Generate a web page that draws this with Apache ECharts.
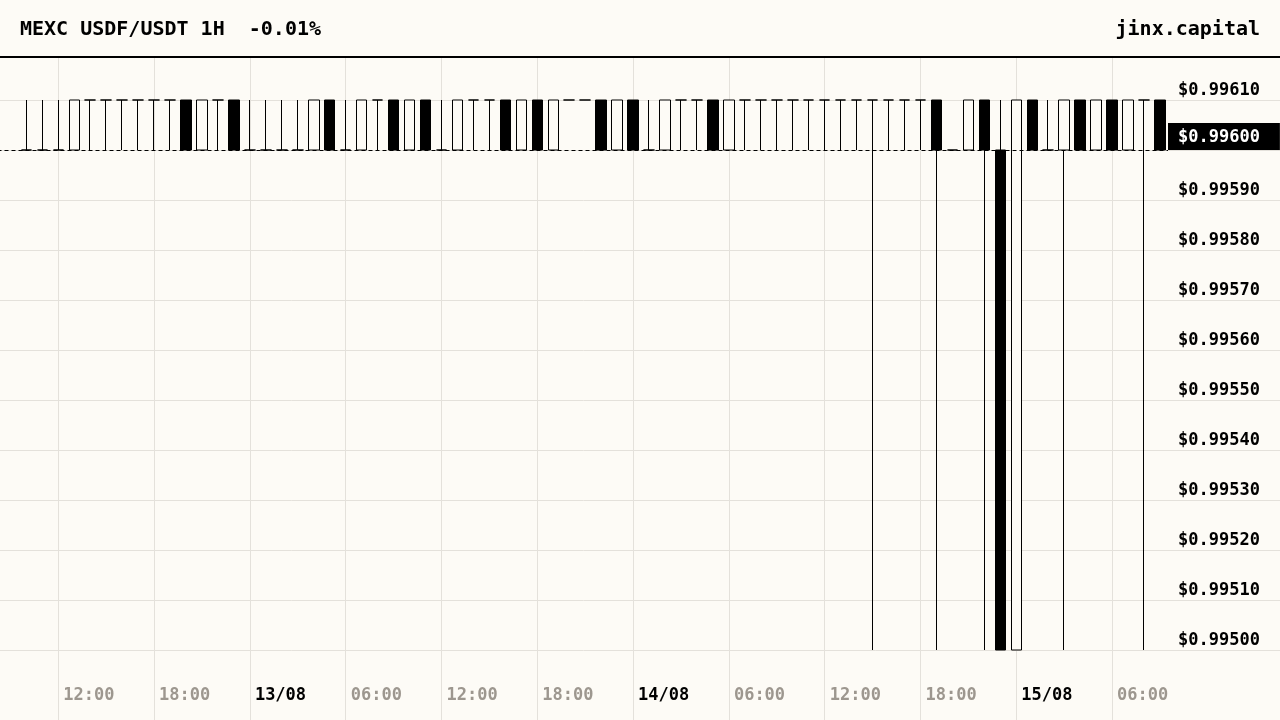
<!DOCTYPE html>
<html>
<head>
<meta charset="utf-8">
<script src="https://cdn.jsdelivr.net/npm/echarts@6/dist/echarts.min.js"></script>
<style>
html,body{margin:0;padding:0;background:#fdfbf6;}
#c{width:1280px;height:720px;}
</style>
</head>
<body>
<div id="c"></div>
<script>
// Hours since 12/08 00:00 (one candle per hour, 12/08 10:00 -> 15/08 09:00)
const hours = [
  10,11,12,13,14,15,16,17,18,19,20,21,
  22,23,24,25,26,27,28,29,30,31,32,33,
  34,35,36,37,38,39,40,41,42,43,44,45,
  46,47,48,49,50,51,52,53,54,55,56,57,
  58,59,60,61,62,63,64,65,66,67,68,69,
  70,71,72,73,74,75,76,77,78,79,80,81
];
const opens = [
  0.9960,0.9960,0.9960,0.9960,0.9961,0.9961,0.9961,0.9961,0.9961,0.9961,0.9961,0.9960,
  0.9961,0.9961,0.9960,0.9960,0.9960,0.9960,0.9960,0.9961,0.9960,0.9960,0.9961,0.9961,
  0.9960,0.9961,0.9960,0.9960,0.9961,0.9961,0.9961,0.9960,0.9961,0.9960,0.9961,0.9961,
  0.9961,0.9960,0.9961,0.9960,0.9960,0.9961,0.9961,0.9961,0.9960,0.9961,0.9961,0.9961,
  0.9961,0.9961,0.9961,0.9961,0.9961,0.9961,0.9961,0.9961,0.9961,0.9961,0.9960,0.9960,
  0.9961,0.9960,0.9950,0.9961,0.9960,0.9960,0.9961,0.9960,0.9961,0.9960,0.9961,0.9961
];
const closes = [
  0.9960,0.9960,0.9960,0.9961,0.9961,0.9961,0.9961,0.9961,0.9961,0.9961,0.9960,0.9961,
  0.9961,0.9960,0.9960,0.9960,0.9960,0.9960,0.9961,0.9960,0.9960,0.9961,0.9961,0.9960,
  0.9961,0.9960,0.9960,0.9961,0.9961,0.9961,0.9960,0.9961,0.9960,0.9961,0.9961,0.9961,
  0.9960,0.9961,0.9960,0.9960,0.9961,0.9961,0.9961,0.9960,0.9961,0.9961,0.9961,0.9961,
  0.9961,0.9961,0.9961,0.9961,0.9961,0.9961,0.9961,0.9961,0.9961,0.9960,0.9960,0.9961,
  0.9960,0.9950,0.9961,0.9960,0.9960,0.9961,0.9960,0.9961,0.9960,0.9961,0.9961,0.9960
];
const lows = [
  0.9960,0.9960,0.9960,0.9960,0.9960,0.9960,0.9960,0.9960,0.9960,0.9960,0.9960,0.9960,
  0.9960,0.9960,0.9960,0.9960,0.9960,0.9960,0.9960,0.9960,0.9960,0.9960,0.9960,0.9960,
  0.9960,0.9960,0.9960,0.9960,0.9960,0.9960,0.9960,0.9960,0.9960,0.9960,0.9961,0.9961,
  0.9960,0.9960,0.9960,0.9960,0.9960,0.9960,0.9960,0.9960,0.9960,0.9960,0.9960,0.9960,
  0.9960,0.9960,0.9960,0.9960,0.9960,0.9950,0.9960,0.9960,0.9960,0.9950,0.9960,0.9960,
  0.9950,0.9950,0.9950,0.9960,0.9960,0.9950,0.9960,0.9960,0.9960,0.9960,0.9950,0.9960
];
const highs = [
  0.9961,0.9961,0.9961,0.9961,0.9961,0.9961,0.9961,0.9961,0.9961,0.9961,0.9961,0.9961,
  0.9961,0.9961,0.9961,0.9961,0.9961,0.9961,0.9961,0.9961,0.9961,0.9961,0.9961,0.9961,
  0.9961,0.9961,0.9961,0.9961,0.9961,0.9961,0.9961,0.9961,0.9961,0.9961,0.9961,0.9961,
  0.9961,0.9961,0.9961,0.9961,0.9961,0.9961,0.9961,0.9961,0.9961,0.9961,0.9961,0.9961,
  0.9961,0.9961,0.9961,0.9961,0.9961,0.9961,0.9961,0.9961,0.9961,0.9961,0.9960,0.9961,
  0.9961,0.9961,0.9961,0.9961,0.9961,0.9961,0.9961,0.9961,0.9961,0.9961,0.9961,0.9961
];
const tickHours  = [12, 18, 24, 30, 36, 42, 48, 54, 60, 66, 72, 78];
const tickLabels = ['12:00','18:00','13/08','06:00','12:00','18:00','14/08','06:00','12:00','18:00','15/08','06:00'];
const titleText = 'MEXC USDF/USDT 1H  -0.01%';
const brandText = 'jinx.capital';

const BG = '#fdfbf6';
const GRIDC = '#e4e1db';
const FONT = '"DejaVu Sans Mono", "Liberation Mono", monospace';

const data = hours.map((h, i) => [h, opens[i], closes[i], lows[i], highs[i]]);
const lastClose = closes[closes.length - 1];
const fmtPrice = v => '$' + Number(v).toFixed(5);

const yBase = {type: 'value', min: 0.995, max: 0.9962, interval: 0.0001, scale: true,
  axisLine: {show: false}, axisTick: {show: false}};

const chart = echarts.init(document.getElementById('c'), null, {renderer: 'canvas'});
chart.setOption({
  animation: false,
  backgroundColor: BG,
  title: [
    {text: titleText, left: 15, top: 15, z: 200,
     textStyle: {fontFamily: FONT, fontSize: 20, fontWeight: 'bold', color: '#000'}},
    {text: brandText, right: 15, top: 15, z: 200,
     textStyle: {fontFamily: FONT, fontSize: 20, fontWeight: 'bold', color: '#000'}}
  ],
  grid: [
    {left: -37.5, right: 112, top: 50, bottom: 70, outerBoundsMode: 'none', containLabel: false},
    {left: -37.5, right: 112, top: 650, bottom: 0, outerBoundsMode: 'none', containLabel: false},
    {left: 1168, right: 0, top: 50, bottom: 70, outerBoundsMode: 'none', containLabel: false}
  ],
  xAxis: [
    {type: 'value', gridIndex: 0, min: 6, max: 81.5, interval: 6,
     axisLine: {show: false}, axisTick: {show: false}, axisLabel: {show: false},
     splitLine: {show: true, showMinLine: false, showMaxLine: false, lineStyle: {color: GRIDC, width: 1}}},
    {type: 'value', gridIndex: 1, min: 6, max: 81.5, interval: 6, position: 'bottom',
     axisLine: {show: false}, axisTick: {show: false},
     splitLine: {show: true, showMinLine: false, showMaxLine: false, lineStyle: {color: GRIDC, width: 1}},
     axisLabel: {
       show: true, inside: true, margin: 24, align: 'left', verticalAlign: 'middle',
       padding: [0, 0, 0, 5], showMinLabel: false, showMaxLabel: false,
       formatter: v => {
         const i = tickHours.indexOf(Math.round(v));
         if (i < 0) return '';
         const s = tickLabels[i];
         return s.indexOf('/') >= 0 ? '{d|' + s + '}' : '{t|' + s + '}';
       },
       rich: {
         t: {color: '#9d978f', fontFamily: FONT, fontSize: 17, fontWeight: 'bold'},
         d: {color: '#000', fontFamily: FONT, fontSize: 17, fontWeight: 'bold'}
       }
     }},
    {type: 'value', gridIndex: 2, show: false, min: 0, max: 1, splitLine: {show: false}}
  ],
  yAxis: [
    Object.assign({}, yBase, {gridIndex: 0, position: 'right',
     splitLine: {show: true, lineStyle: {color: GRIDC, width: 1}},
     axisLabel: {margin: 10, align: 'left', verticalAlign: 'bottom', showMaxLabel: false,
       padding: [0, 0, 1, 0],
       fontFamily: FONT, fontSize: 17, fontWeight: 'bold', color: '#000',
       formatter: fmtPrice}}),
    {type: 'value', gridIndex: 1, show: false, min: 0, max: 1},
    Object.assign({}, yBase, {gridIndex: 2, position: 'right',
     axisLabel: {show: false},
     splitLine: {show: true, lineStyle: {color: GRIDC, width: 1}}})
  ],
  series: [{
    type: 'candlestick', xAxisIndex: 0, yAxisIndex: 0,
    data: data, barWidth: 11,
    itemStyle: {color: BG, color0: '#000', borderColor: '#000', borderColor0: '#000', borderWidth: 1},
    emphasis: {disabled: true},
    markLine: {
      silent: true, animation: false, symbol: ['none', 'none'], precision: 5,
      lineStyle: {color: '#000', type: [4, 3], width: 1},
      label: {show: true, position: 'end', distance: 0, formatter: p => fmtPrice(p.value),
        color: '#fff', backgroundColor: '#000', padding: [6, 20, 4, 10],
        fontFamily: FONT, fontSize: 17, fontWeight: 'bold', verticalAlign: 'bottom', align: 'left'},
      emphasis: {disabled: true},
      data: [{yAxis: lastClose}]
    }
  }],
  graphic: [
    {type: 'rect', z: 100, silent: true, shape: {x: 0, y: 0, width: 1280, height: 56}, style: {fill: BG}},
    {type: 'rect', z: 101, silent: true, shape: {x: 0, y: 56, width: 1280, height: 2}, style: {fill: '#000'}}
  ]
});
</script>
</body>
</html>
